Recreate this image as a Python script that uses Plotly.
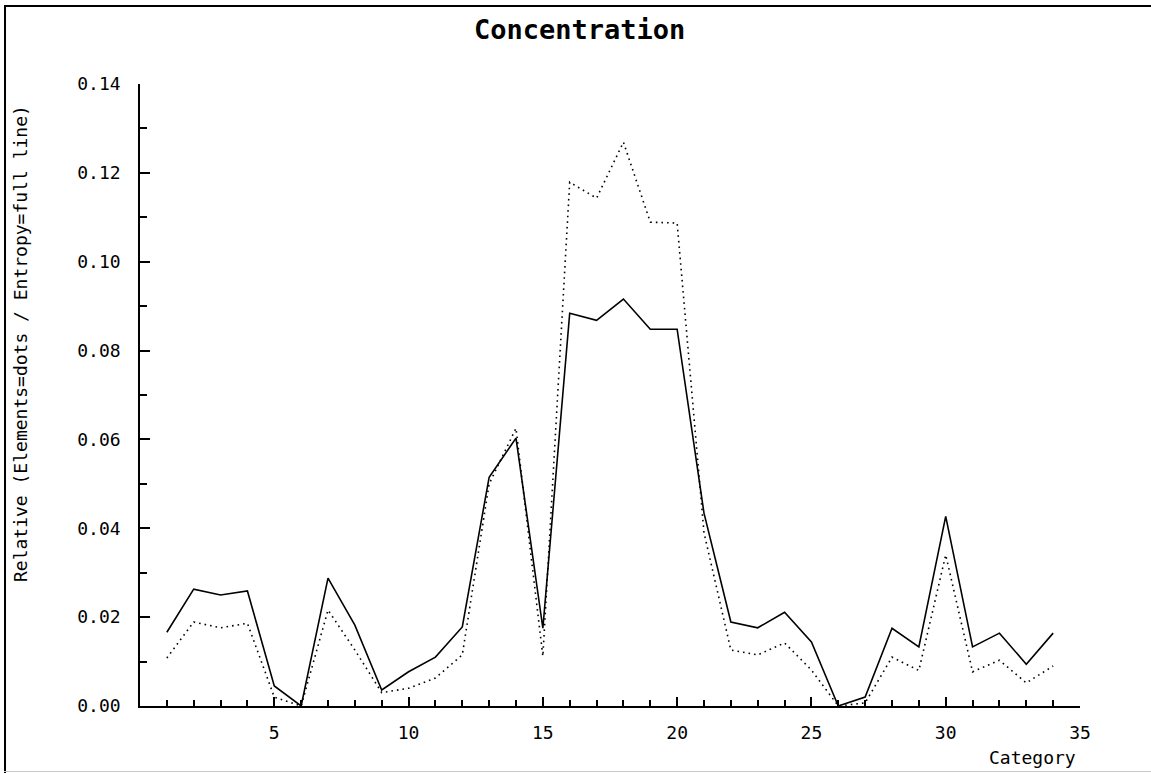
import plotly.graph_objects as go

categories = list(range(1, 35))
entropy = [0.0166, 0.0263, 0.0250, 0.0259, 0.0045, 0.0, 0.0288, 0.0182, 0.0036, 0.0077,
           0.0110, 0.0178, 0.0515, 0.0603, 0.0175, 0.0884, 0.0868, 0.0916, 0.0848, 0.0848,
           0.0434, 0.0189, 0.0176, 0.0211, 0.0144, 0.0, 0.0020, 0.0175, 0.0133, 0.0427,
           0.0133, 0.0164, 0.0094, 0.0164]
elements = [0.0108, 0.0189, 0.0176, 0.0186, 0.0020, 0.0, 0.0216, 0.0126, 0.0030, 0.0040,
            0.0063, 0.0115, 0.0500, 0.0625, 0.0112, 0.1179, 0.1143, 0.1269, 0.1089, 0.1087,
            0.0390, 0.0126, 0.0115, 0.0142, 0.0081, 0.0, 0.0007, 0.0110, 0.0080, 0.0340,
            0.0077, 0.0103, 0.0052, 0.0090]

x_ticks = [0, 5, 10, 15, 20, 25, 30, 35]
x_ticktext = ["", "5", "10", "15", "20", "25", "30", "35"]
y_ticks = [0.00, 0.02, 0.04, 0.06, 0.08, 0.10, 0.12, 0.14]
y_ticktext = ["0.00", "0.02", "0.04", "0.06", "0.08", "0.10", "0.12", "0.14"]

W, H = 1151, 773
L, R, T, B = 140, 1080, 84, 706
FONT = "DejaVu Sans Mono"

def px(x):
    return (x - L) / (R - L)

def py(y):
    return (B - y) / (B - T)

fig = go.Figure()
fig.add_trace(go.Scatter(x=categories, y=elements, mode="lines",
                         line=dict(color="black", width=1.6, dash="1.6px,4px"),
                         name="Elements", hoverinfo="x+y"))
fig.add_trace(go.Scatter(x=categories, y=entropy, mode="lines",
                         line=dict(color="black", width=1.6),
                         name="Entropy", hoverinfo="x+y"))

fig.update_layout(
    width=W, height=H,
    margin=dict(l=L, r=W - R, t=T, b=H - B),
    paper_bgcolor="white", plot_bgcolor="white",
    showlegend=False,
    font=dict(family=FONT, size=18, color="black"),
)

fig.update_xaxes(
    range=[0, 35], showgrid=False, zeroline=False,
    showline=True, linecolor="black", linewidth=1.5,
    tickmode="array", tickvals=x_ticks, ticktext=x_ticktext,
    ticks="inside", ticklen=9, tickwidth=1.5, tickcolor="black",
    ticklabelstandoff=10,
    minor=dict(tickmode="array", tickvals=list(range(0, 36)),
               ticks="inside", ticklen=6, tickwidth=1.5, tickcolor="black"),
    tickfont=dict(family=FONT, size=18, color="black"),
)
fig.update_yaxes(
    range=[0, 0.14], showgrid=False, zeroline=False,
    showline=True, linecolor="black", linewidth=1.5,
    tickmode="array", tickvals=y_ticks, ticktext=y_ticktext,
    ticks="inside", ticklen=10, tickwidth=1.5, tickcolor="black",
    ticklabelstandoff=14,
    minor=dict(tickmode="array", tickvals=[0.01, 0.03, 0.05, 0.07, 0.09, 0.11, 0.13],
               ticks="inside", ticklen=7, tickwidth=1.5, tickcolor="black"),
    tickfont=dict(family=FONT, size=18, color="black"),
)

# Title and axis titles as annotations
fig.add_annotation(text="<b>Concentration</b>", xref="paper", yref="paper",
                   x=px(579), y=py(30), showarrow=False,
                   font=dict(family=FONT, size=27, color="black"),
                   xanchor="center", yanchor="middle")
fig.add_annotation(text="Category", xref="paper", yref="paper",
                   x=px(1032), y=py(757), showarrow=False,
                   font=dict(family=FONT, size=18, color="black"),
                   xanchor="center", yanchor="middle")
fig.add_annotation(text="Relative (Elements=dots / Entropy=full line)", xref="paper", yref="paper",
                   x=px(20), y=py(344), showarrow=False, textangle=-90,
                   font=dict(family=FONT, size=18, color="black"),
                   xanchor="center", yanchor="middle")

# Frame lines around the picture
fig.add_shape(type="line", xref="paper", yref="paper", x0=px(4), x1=px(1151), y0=py(6), y1=py(6),
              line=dict(color="black", width=2))
fig.add_shape(type="line", xref="paper", yref="paper", x0=px(5), x1=px(5), y0=py(6), y1=py(773),
              line=dict(color="black", width=2))
fig.add_shape(type="line", xref="paper", yref="paper", x0=px(4), x1=px(1151), y0=py(771.5), y1=py(771.5),
              line=dict(color="#c8c8c8", width=1))

fig.write_html("out.html")
